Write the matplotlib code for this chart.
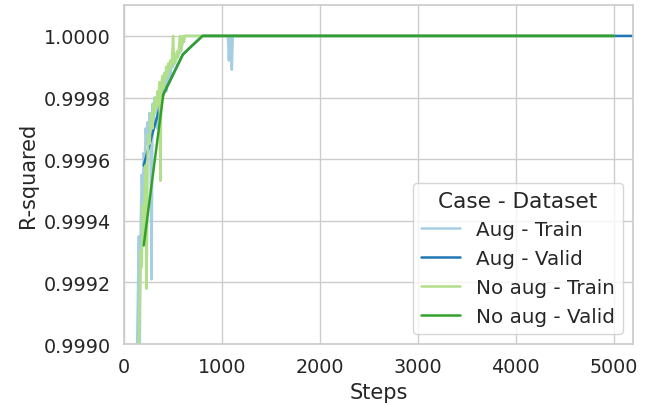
import numpy as np
import matplotlib
matplotlib.use("Agg")
import matplotlib.pyplot as plt
import seaborn as sns

sns.set_theme(style="whitegrid")
plt.rcParams['font.family'] = ['DejaVu Sans']

# training curves, logged every 10 steps early on
train_steps = list(range(130, 630, 10)) + [700, 800, 900, 1000, 1060, 1070, 1080, 1090, 1100, 1110, 1200, 2000, 3000, 4000, 5000]

aug_train = [
    0.99895, 0.99915, 0.99935, 0.99900, 0.99940, 0.99955, 0.99945, 0.99962, 0.99958, 0.99970,
    0.99965, 0.99972, 0.99968, 0.99975, 0.99960, 0.99921, 0.99978, 0.99972, 0.99980, 0.99975,
    0.99978, 0.99970, 0.99982, 0.99978, 0.99982, 0.99984, 0.99980, 0.99985, 0.99983, 0.99987,
    0.99982, 0.99988, 0.99985, 0.99990, 0.99987, 0.99989, 0.99992, 0.99990, 0.99993, 0.99991,
    0.99994, 0.99993, 0.99995, 0.99994, 0.99996, 0.99995, 0.99997, 0.99998, 0.99999, 1.0,
    1.0, 1.0, 1.0, 1.0, 1.0, 0.99992, 1.0, 1.0, 0.99989, 1.0, 1.0, 1.0, 1.0, 1.0, 1.0,
]

noaug_train = [
    0.99880, 0.99890, 0.99900, 0.99915, 0.99930, 0.99925, 0.99945, 0.99935, 0.99950, 0.99958,
    0.99918, 0.99962, 0.99968, 0.99965, 0.99972, 0.99975, 0.99970, 0.99978, 0.99975, 0.99980,
    0.99977, 0.99982, 0.99978, 0.99985, 0.99953, 0.99984, 0.99987, 0.99983, 0.99988, 0.99986,
    0.99990, 0.99987, 0.99991, 0.99989, 0.99992, 0.99990, 0.99993, 1.0, 0.99991, 0.99994,
    0.99992, 0.99995, 0.99993, 0.99996, 1.0, 0.99995, 0.99997, 1.0, 0.99998, 1.0,
    1.0, 1.0, 1.0, 1.0, 1.0, 1.0, 1.0, 1.0, 1.0, 1.0, 1.0, 1.0, 1.0, 1.0, 1.0,
]

# validation every 200 steps
aug_valid_steps = [200, 400, 600, 800, 1000, 2000, 3000, 4000, 5000, 5200]
aug_valid = [0.99958, 0.99981, 0.99994, 1.0, 1.0, 1.0, 1.0, 1.0, 1.0, 1.0]
noaug_valid_steps = [200, 400, 600, 800, 1000, 2000, 3000, 4000, 5000]
noaug_valid = [0.99932, 0.99981, 0.99994, 1.0, 1.0, 1.0, 1.0, 1.0, 1.0]

pal = sns.color_palette("Paired")

fig, ax = plt.subplots(figsize=(6.5, 4.06), dpi=100)
fig.subplots_adjust(left=0.191, right=0.974, top=0.985, bottom=0.15)

lw = 1.8
ax.plot(train_steps, aug_train, color=pal[0], lw=lw, label="Aug - Train")
ax.plot(aug_valid_steps, aug_valid, color=pal[1], lw=lw, label="Aug - Valid")
ax.plot(train_steps, noaug_train, color=pal[2], lw=lw, label="No aug - Train")
ax.plot(noaug_valid_steps, noaug_valid, color=pal[3], lw=lw, label="No aug - Valid")

ax.set_xlim(0, 5200)
ax.set_ylim(0.999, 1.0001)
ax.set_yticks([0.999, 0.9992, 0.9994, 0.9996, 0.9998, 1.0])
ax.yaxis.set_major_formatter(matplotlib.ticker.FormatStrFormatter('%.4f'))
ax.tick_params(labelsize=13.8)
ax.set_xlabel("Steps", fontsize=15)
ax.set_ylabel("R-squared", fontsize=15)

leg = ax.legend(title="Case - Dataset", loc="lower right", fontsize=14.3, title_fontsize=15.6)

fig.savefig("out.png")
